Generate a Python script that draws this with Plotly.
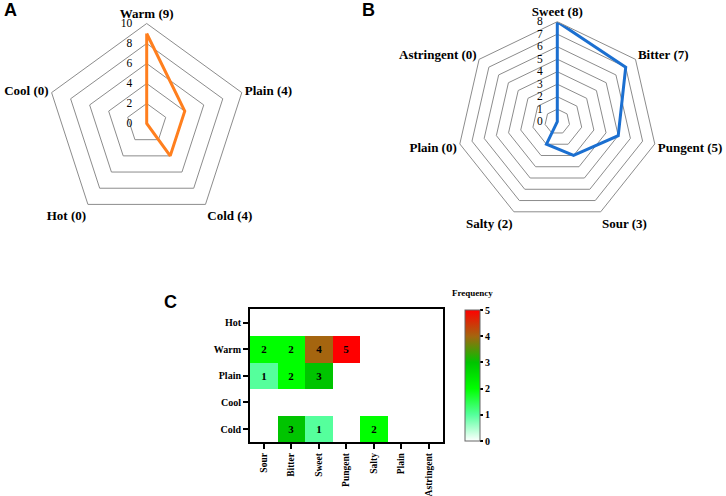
import plotly.graph_objects as go

# ---- Data ----
nature_names = ["Warm", "Plain", "Cold", "Hot", "Cool"]
nature_counts = [9, 4, 4, 0, 0]

flavor_names = ["Sweet", "Bitter", "Pungent", "Sour", "Salty", "Plain", "Astringent"]
flavor_counts = [8, 7, 5, 3, 2, 0, 0]

heat_rows = ["Hot", "Warm", "Plain", "Cool", "Cold"]
heat_cols = ["Sour", "Bitter", "Sweet", "Pungent", "Salty", "Plain", "Astringent"]
heat_z = [
    [None, None, None, None, None, None, None],
    [2, 2, 4, 5, None, None, None],
    [1, 2, 3, None, None, None, None],
    [None, None, None, None, None, None, None],
    [None, 3, 1, None, 2, None, None],
]

W, H = 726, 496
SERIF = "Liberation Serif"
SANS = "Liberation Sans"

a_labels = [f"{n} ({v})" for n, v in zip(nature_names, nature_counts)]
b_labels = [f"{n} ({v})" for n, v in zip(flavor_names, flavor_counts)]

fig = go.Figure()

fig.add_trace(go.Scatterpolar(
    r=nature_counts + nature_counts[:1],
    theta=a_labels + a_labels[:1],
    mode="lines", line=dict(color="#ff7f1e", width=3),
    subplot="polar", showlegend=False, hoverinfo="skip"))

fig.add_trace(go.Scatterpolar(
    r=flavor_counts + flavor_counts[:1],
    theta=b_labels + b_labels[:1],
    mode="lines", line=dict(color="#1b6fd0", width=3),
    subplot="polar2", showlegend=False, hoverinfo="skip"))

fig.add_trace(go.Heatmap(
    z=heat_z, x=heat_cols, y=heat_rows,
    zmin=0, zmax=5,
    colorscale=[[0, "#ffffff"], [0.2, "#55ff9c"], [0.4, "#00ff00"],
                [0.6, "#00c400"], [0.8, "#a5650f"], [1, "#ff0000"]],
    texttemplate="%{z}",
    textfont=dict(family=SERIF, size=11, color="black", weight="bold"),
    xgap=0, ygap=0, hoverinfo="skip",
    colorbar=dict(
        x=465 / W, xanchor="left", xpad=0,
        y=1 - 375.5 / H, yanchor="middle", ypad=0,
        len=131 / H, lenmode="fraction", thickness=15,
        outlinecolor="#666666", outlinewidth=1,
        tickvals=[0, 1, 2, 3, 4, 5], ticks="outside", ticklen=3, tickwidth=1.5,
        tickcolor="black",
        tickfont=dict(family=SERIF, size=10, color="black", weight="bold"),
    ),
))


def polar_cfg(cx, cy, rmax, dtick):
    rad = 100
    return dict(
        domain=dict(x=[(cx - rad) / W, (cx + rad) / W],
                    y=[1 - (cy + rad) / H, 1 - (cy - rad) / H]),
        gridshape="linear",
        bgcolor="white",
        radialaxis=dict(range=[0, rmax], dtick=dtick, tick0=0, angle=90,
                        side="counterclockwise", showline=False, tickangle=90,
                        gridcolor="#8c8c8c", gridwidth=1,
                        ticks="outside", ticklen=10, tickcolor="rgba(0,0,0,0)",
                        tickfont=dict(family=SERIF, size=11.5, color="black")),
        angularaxis=dict(direction="clockwise", rotation=90, showgrid=False,
                         linecolor="#8c8c8c", linewidth=1, ticks="",
                         tickfont=dict(family=SERIF, size=13, color="black",
                                       weight="bold")),
    )


fig.update_layout(
    width=W, height=H,
    margin=dict(l=0, r=0, t=0, b=0),
    paper_bgcolor="white", plot_bgcolor="white",
    polar=polar_cfg(146.7, 123.5, 10, 2),
    polar2=polar_cfg(557.3, 121.7, 8, 1),
    xaxis=dict(domain=[250 / W, 442.7 / W], anchor="y",
               showline=True, mirror=True, linecolor="black", linewidth=2,
               ticks="outside", ticklen=5, tickwidth=2, tickcolor="black",
               tickangle=-90, showgrid=False, zeroline=False,
               tickfont=dict(family=SERIF, size=9.5, color="black", weight="bold")),
    yaxis=dict(domain=[1 - 442.3 / H, 1 - 309.3 / H], anchor="x",
               autorange="reversed",
               showline=True, mirror=True, linecolor="black", linewidth=2,
               ticks="outside", ticklen=5, tickwidth=2, tickcolor="black",
               showgrid=False, zeroline=False,
               tickfont=dict(family=SERIF, size=10, color="black", weight="bold")),
    annotations=[
        dict(text="A", x=10 / W, y=1 - 10.5 / H, xref="paper", yref="paper",
             xanchor="center", yanchor="middle", showarrow=False,
             font=dict(family=SANS, size=18, color="black", weight="bold")),
        dict(text="B", x=368.5 / W, y=1 - 10 / H, xref="paper", yref="paper",
             xanchor="center", yanchor="middle", showarrow=False,
             font=dict(family=SANS, size=18, color="black", weight="bold")),
        dict(text="C", x=170 / W, y=1 - 302 / H, xref="paper", yref="paper",
             xanchor="center", yanchor="middle", showarrow=False,
             font=dict(family=SANS, size=18, color="black", weight="bold")),
        dict(text="Frequency", x=472 / W, y=1 - 293 / H, xref="paper", yref="paper",
             xanchor="center", yanchor="middle", showarrow=False,
             font=dict(family=SERIF, size=9, color="black", weight="bold")),
    ],
)

fig.write_html("out.html", config={"displayModeBar": False},
               post_script="document.body.style.margin='0';document.body.style.overflow='hidden';")
